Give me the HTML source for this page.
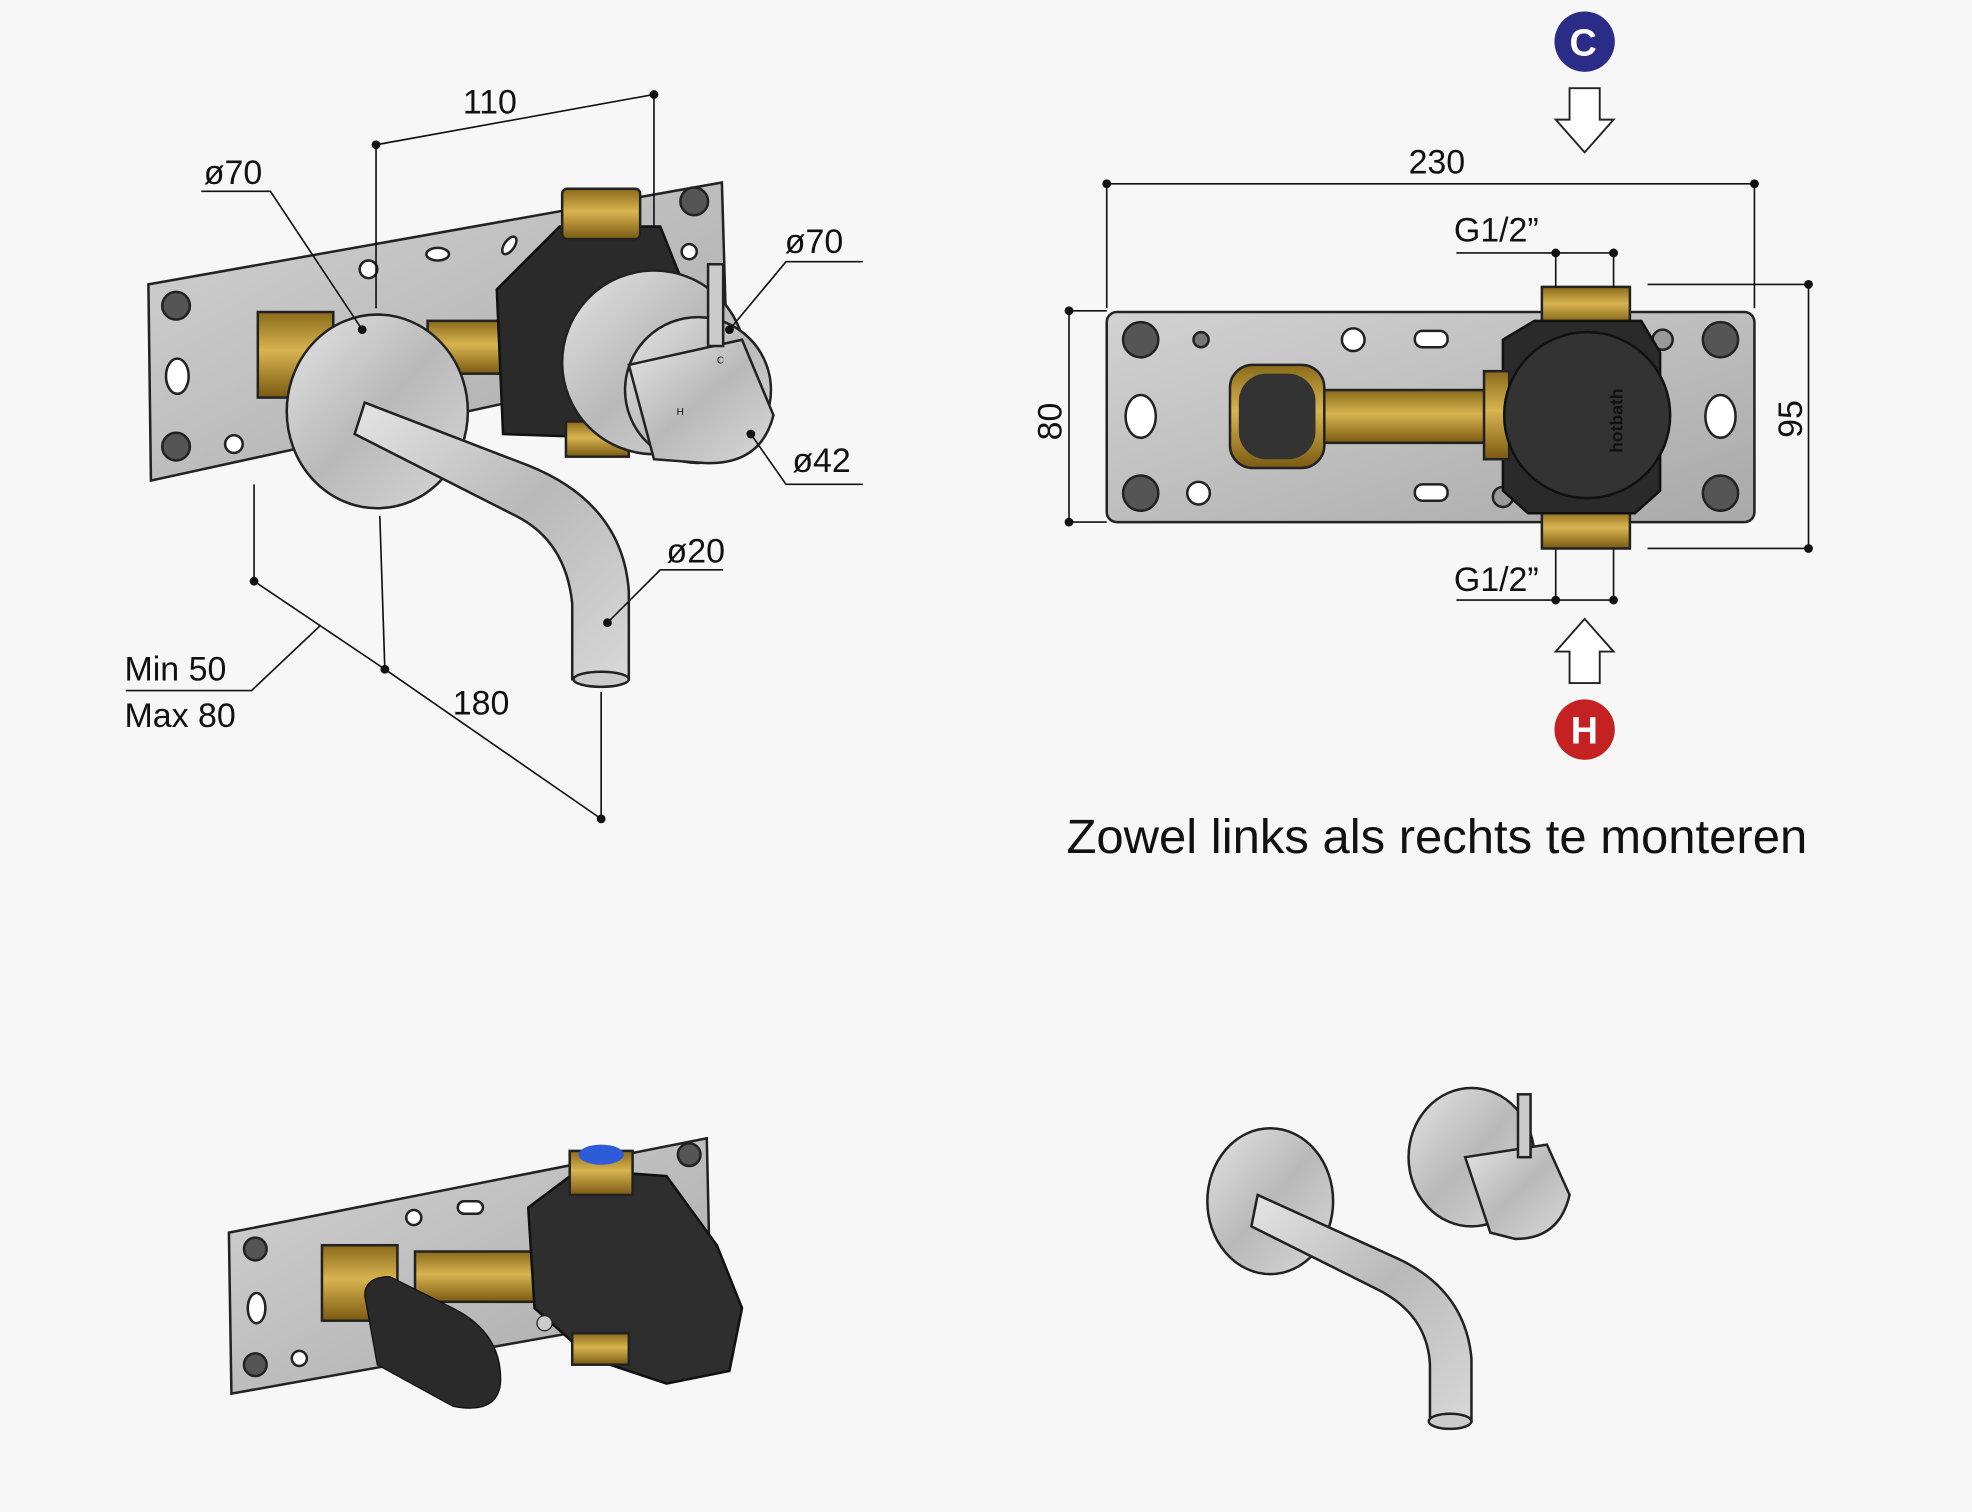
<!DOCTYPE html>
<html><head><meta charset="utf-8"><style>
html,body{margin:0;padding:0;background:#f7f7f7;}
svg{display:block;}
text{font-family:"Liberation Sans",sans-serif;fill:#111;}
</style></head><body>
<svg width="1972" height="1512" viewBox="0 0 1568 1202" xmlns="http://www.w3.org/2000/svg">
<rect width="1568" height="1202" fill="#f7f7f7"/>
<defs>
<linearGradient id="chrome" x1="0" y1="0" x2="1" y2="1"><stop offset="0" stop-color="#e4e4e4"/><stop offset="0.5" stop-color="#b9b9b9"/><stop offset="1" stop-color="#d8d8d8"/></linearGradient>
<linearGradient id="brass" x1="0" y1="0" x2="0" y2="1"><stop offset="0" stop-color="#8a6a1a"/><stop offset="0.45" stop-color="#d8b450"/><stop offset="1" stop-color="#7a5a12"/></linearGradient>
<linearGradient id="plate" x1="0" y1="0" x2="1" y2="1"><stop offset="0" stop-color="#d2d2d2"/><stop offset="1" stop-color="#a9a9a9"/></linearGradient>
</defs>

<!-- TOP LEFT -->
<polygon points="118,226 574,145 578,282 120,382" fill="url(#plate)" stroke="#222" stroke-width="2"/>
<g fill="#fff" stroke="#222" stroke-width="2">
<circle cx="293" cy="214" r="7"/><ellipse cx="348" cy="202" rx="9" ry="5"/><ellipse cx="405" cy="195" rx="4" ry="8" transform="rotate(35 405 195)"/>
<circle cx="186" cy="353" r="7"/><circle cx="140" cy="243" r="11" fill="#555"/><circle cx="140" cy="355" r="11" fill="#555"/>
<circle cx="552" cy="160" r="11" fill="#555"/><circle cx="548" cy="200" r="6"/>
<ellipse cx="141" cy="299" rx="9" ry="14"/>
</g>
<rect x="205" y="248" width="60" height="68" fill="url(#brass)" stroke="#222" stroke-width="2"/>
<rect x="340" y="255" width="80" height="42" fill="url(#brass)" stroke="#222" stroke-width="2"/>
<path d="M395 230 L445 180 L525 180 L545 230 L545 350 L400 345 Z" fill="#2a2a2a" stroke="#111" stroke-width="2"/>
<rect x="447" y="150" width="62" height="40" rx="4" fill="url(#brass)" stroke="#222" stroke-width="2"/>
<rect x="450" y="335" width="50" height="28" fill="url(#brass)" stroke="#222" stroke-width="2"/>
<circle cx="520" cy="288" r="73" fill="url(#chrome)" stroke="#222" stroke-width="2"/>
<circle cx="555" cy="310" r="58" fill="url(#chrome)" stroke="#222" stroke-width="2"/>
<path d="M500 290 L590 270 L615 330 Q605 370 560 368 L520 365 Z" fill="url(#chrome)" stroke="#222" stroke-width="2"/>
<rect x="563" y="210" width="12" height="65" fill="#ccc" stroke="#222" stroke-width="2"/>
<text x="538" y="330" font-size="8">H</text><text x="570" y="289" font-size="8">C</text>
<ellipse cx="300" cy="327" rx="72" ry="77" fill="url(#chrome)" stroke="#222" stroke-width="2"/>
<path d="M290 320 L420 370 Q495 400 500 470 L500 540 L455 540 L455 480 Q450 430 410 410 L282 345 Z" fill="url(#chrome)" stroke="#222" stroke-width="2"/>
<ellipse cx="478" cy="540" rx="22" ry="6" fill="#ccc" stroke="#222" stroke-width="2"/>

<g stroke="#111" stroke-width="1.3" fill="none">
<line x1="299" y1="115" x2="520" y2="75"/><line x1="299" y1="115" x2="299" y2="245"/><line x1="520" y1="75" x2="520" y2="180"/>
<polyline points="160,152 215,152 288,262"/>
<polyline points="686,208 625,208 580,262"/>
<polyline points="686,385 625,385 597,345"/>
<polyline points="575,453 525,453 483,495"/>
<line x1="202" y1="385" x2="202" y2="462"/><line x1="302" y1="410" x2="306" y2="532"/><line x1="478" y1="550" x2="478" y2="651"/>
<line x1="202" y1="462" x2="306" y2="532"/><line x1="306" y1="532" x2="478" y2="651"/>
<polyline points="100,549 200,549 255,497"/>
</g>
<g fill="#111"><circle cx="299" cy="115" r="3.5"/><circle cx="520" cy="75" r="3.5"/><circle cx="288" cy="262" r="3.5"/><circle cx="580" cy="262" r="3.5"/><circle cx="597" cy="345" r="3.5"/><circle cx="483" cy="495" r="3.5"/><circle cx="202" cy="462" r="3.5"/><circle cx="306" cy="532" r="3.5"/><circle cx="478" cy="651" r="3.5"/></g>
<g font-size="27"><text x="368" y="90">110</text><text x="162" y="146">ø70</text><text x="624" y="201">ø70</text><text x="630" y="375">ø42</text><text x="530" y="447">ø20</text><text x="99" y="541">Min 50</text><text x="99" y="578">Max 80</text><text x="360" y="568">180</text></g>

<!-- TOP RIGHT -->
<rect x="880" y="248" width="515" height="167" rx="8" fill="url(#plate)" stroke="#222" stroke-width="2"/>
<g fill="#fff" stroke="#222" stroke-width="2">
<circle cx="907" cy="270" r="14" fill="#555"/><circle cx="907" cy="392" r="14" fill="#555"/><circle cx="1368" cy="270" r="14" fill="#555"/><circle cx="1368" cy="392" r="14" fill="#555"/>
<ellipse cx="907" cy="331" rx="12" ry="17"/><ellipse cx="1368" cy="331" rx="12" ry="17"/>
<circle cx="1076" cy="270" r="9"/><circle cx="953" cy="392" r="9"/><rect x="1125" y="263" width="26" height="13" rx="6"/><rect x="1125" y="385" width="26" height="13" rx="6"/>
<circle cx="955" cy="270" r="6" fill="#777"/><circle cx="1322" cy="270" r="8" fill="#999"/><circle cx="1195" cy="395" r="8" fill="#999"/>
</g>
<rect x="1050" y="310" width="135" height="42" fill="url(#brass)" stroke="#222" stroke-width="2"/>
<rect x="978" y="290" width="75" height="82" rx="18" fill="url(#brass)" stroke="#222" stroke-width="2"/>
<rect x="985" y="297" width="61" height="68" rx="22" fill="#333"/>
<rect x="1226" y="228" width="70" height="30" fill="url(#brass)" stroke="#222" stroke-width="2"/>
<rect x="1226" y="406" width="70" height="30" fill="url(#brass)" stroke="#222" stroke-width="2"/>
<path d="M1195 270 L1220 255 L1305 255 L1320 280 L1320 390 L1300 408 L1215 408 L1195 390 Z" fill="#2a2a2a" stroke="#111" stroke-width="2"/>
<rect x="1180" y="295" width="20" height="70" fill="url(#brass)" stroke="#222" stroke-width="2"/>
<circle cx="1262" cy="330" r="66" fill="#333" stroke="#111" stroke-width="2"/>
<text x="0" y="0" font-size="14" font-weight="bold" fill="#111" transform="translate(1290 360) rotate(-90)">hotbath</text>
<g stroke="#111" stroke-width="1.3" fill="none">
<line x1="880" y1="146" x2="1395" y2="146"/><line x1="880" y1="146" x2="880" y2="245"/><line x1="1395" y1="146" x2="1395" y2="245"/>
<line x1="850" y1="247" x2="850" y2="415"/><line x1="850" y1="247" x2="880" y2="247"/><line x1="850" y1="415" x2="880" y2="415"/>
<line x1="1438" y1="226" x2="1438" y2="436"/><line x1="1310" y1="226" x2="1438" y2="226"/><line x1="1310" y1="436" x2="1438" y2="436"/>
<polyline points="1158,201 1237,201 1283,201"/><line x1="1237" y1="201" x2="1237" y2="228"/><line x1="1283" y1="201" x2="1283" y2="228"/>
<polyline points="1158,477 1237,477 1283,477"/><line x1="1237" y1="436" x2="1237" y2="477"/><line x1="1283" y1="436" x2="1283" y2="477"/>
</g>
<g fill="#111"><circle cx="880" cy="146" r="3.5"/><circle cx="1395" cy="146" r="3.5"/><circle cx="850" cy="247" r="3.5"/><circle cx="850" cy="415" r="3.5"/><circle cx="1438" cy="226" r="3.5"/><circle cx="1438" cy="436" r="3.5"/><circle cx="1237" cy="201" r="3.5"/><circle cx="1283" cy="201" r="3.5"/><circle cx="1237" cy="477" r="3.5"/><circle cx="1283" cy="477" r="3.5"/></g>
<g font-size="27"><text x="1120" y="138">230</text><text x="1156" y="192">G1/2”</text><text x="1156" y="470">G1/2”</text>
<text transform="translate(844 350) rotate(-90)">80</text><text transform="translate(1433 348) rotate(-90)">95</text></g>
<polygon points="1248,70 1272,70 1272,95 1283,95 1260,121 1237,95 1248,95" fill="#fff" stroke="#222" stroke-width="1.5"/>
<polygon points="1248,543 1272,543 1272,518 1283,518 1260,492 1237,518 1248,518" fill="#fff" stroke="#222" stroke-width="1.5"/>
<circle cx="1260" cy="33" r="24" fill="#2b2b88"/><text x="1248" y="44" font-size="30" font-weight="bold" style="fill:#fff">C</text>
<circle cx="1260" cy="580" r="24" fill="#c42222"/><text x="1249" y="591" font-size="30" font-weight="bold" style="fill:#fff">H</text>
<text x="848" y="678" font-size="38" textLength="589" lengthAdjust="spacingAndGlyphs">Zowel links als rechts te monteren</text>

<!-- BOTTOM LEFT -->
<polygon points="182,980 562,905 565,1040 184,1108" fill="url(#plate)" stroke="#222" stroke-width="2"/>
<g fill="#fff" stroke="#222" stroke-width="2">
<circle cx="203" cy="993" r="9" fill="#555"/><circle cx="203" cy="1085" r="9" fill="#555"/><circle cx="548" cy="918" r="9" fill="#555"/><circle cx="548" cy="1020" r="9" fill="#555"/>
<circle cx="329" cy="968" r="6"/><rect x="364" y="955" width="20" height="10" rx="5"/><circle cx="238" cy="1080" r="6"/><ellipse cx="204" cy="1040" rx="7" ry="12"/>
</g>
<rect x="256" y="990" width="60" height="60" fill="url(#brass)" stroke="#222" stroke-width="2"/>
<rect x="330" y="995" width="105" height="40" fill="url(#brass)" stroke="#222" stroke-width="2"/>
<path d="M290 1030 Q290 1015 310 1015 L360 1040 Q400 1060 398 1100 Q395 1125 360 1118 L300 1085 Z" fill="#2a2a2a" stroke="#111"/>
<path d="M420 960 L460 930 L530 935 L570 990 L590 1040 L580 1090 L530 1100 L470 1080 L425 1040 Z" fill="#2e2e2e" stroke="#111" stroke-width="2"/>
<rect x="453" y="915" width="50" height="35" fill="url(#brass)" stroke="#222" stroke-width="2"/>
<ellipse cx="478" cy="918" rx="18" ry="8" fill="#2e5bd8"/>
<rect x="455" y="1060" width="45" height="25" fill="url(#brass)" stroke="#222" stroke-width="2"/>
<circle cx="433" cy="1052" r="6" fill="#ccc" stroke="#222"/>

<!-- BOTTOM RIGHT -->
<ellipse cx="1010" cy="955" rx="50" ry="58" fill="url(#chrome)" stroke="#222" stroke-width="2"/>
<path d="M1000 950 L1110 1000 Q1165 1025 1170 1080 L1170 1130 L1137 1130 L1137 1085 Q1135 1045 1095 1025 L995 975 Z" fill="url(#chrome)" stroke="#222" stroke-width="2"/>
<ellipse cx="1153" cy="1130" rx="17" ry="6" fill="#ccc" stroke="#222" stroke-width="2"/>
<ellipse cx="1170" cy="920" rx="50" ry="55" fill="url(#chrome)" stroke="#222" stroke-width="2"/>
<path d="M1165 920 L1230 910 L1248 950 Q1240 985 1205 985 L1185 980 Z" fill="url(#chrome)" stroke="#222" stroke-width="2"/>
<rect x="1207" y="870" width="10" height="50" fill="#ccc" stroke="#222" stroke-width="2"/>
</svg>
</body></html>
